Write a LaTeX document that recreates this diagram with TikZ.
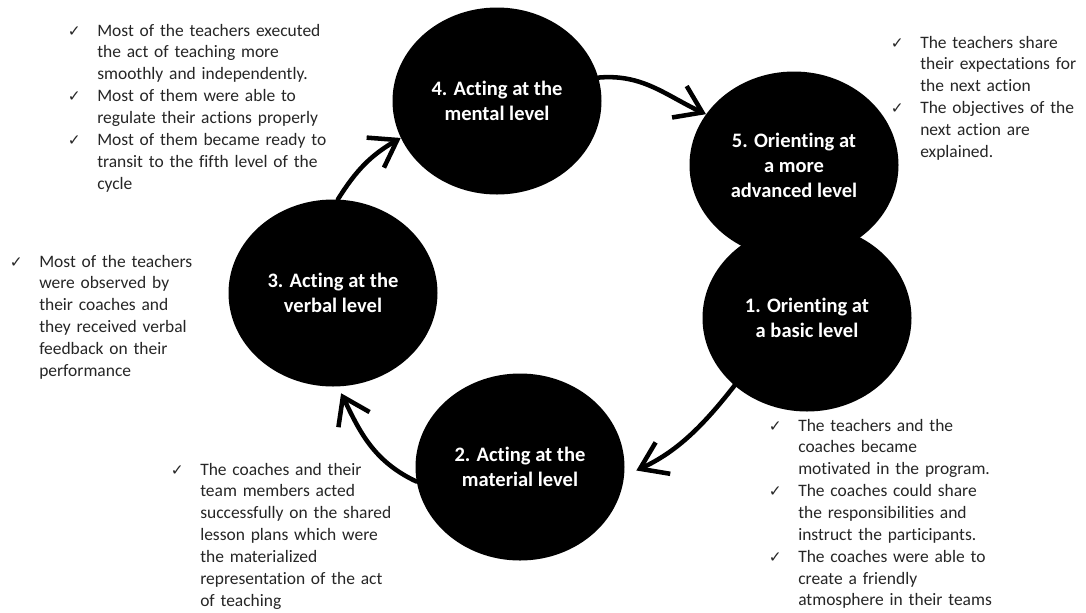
\documentclass[tikz,border=0pt]{standalone}
\usepackage{fontspec}
\setmainfont{Carlito}[Ligatures=NoCommon]
\newfontfamily\checkfont{DejaVu Sans}
\usetikzlibrary{arrows.meta,shapes.geometric}
\definecolor{bodytxt}{RGB}{38,38,38}
\newcommand{\ck}{\leavevmode\llap{{\checkfont\fontsize{11.5pt}{11.5pt}\selectfont ✓}\hspace{12.5pt}}}
\begin{document}
\begin{tikzpicture}[x=0.75pt,y=0.75pt,
  stage/.style={ellipse,fill=black,draw=none,minimum width=156.75pt,minimum height=140.25pt,inner sep=0pt,
    text=white,align=center,font=\bfseries\fontsize{15.4pt}{18.75pt}\selectfont},
  note/.style={anchor=base west,inner sep=0pt,text width=240pt,align=left,text=bodytxt,
    font=\fontsize{13.1pt}{16.4pt}\selectfont},
  flow/.style={line width=3.4pt,line cap=round,-{Straight Barb[length=19pt,width=26pt]}}]
\fill[white] (0,0) rectangle (1086,-612);
\useasboundingbox (0,0) rectangle (1086,-612);

\node[stage] (c4) at (497,-101) {4. Acting at the\\mental level};
\node[stage] (c5) at (794,-165) {5. Orienting at\\a more\\advanced level};
\node[stage] (c1) at (807,-318) {1. Orienting at\\a basic level};
\node[stage] (c2) at (520,-467) {2. Acting at the\\material level};
\node[stage] (c3) at (333,-293) {3. Acting at the\\verbal level};

\draw[flow] (c3.87) to[out=58,in=210] (c4.201);
\draw[flow] (c4.13) to[out=5,in=155] (c5.150);
\draw[flow,shorten >=10pt] (c1.223) to[out=232,in=25] (c2.355);
\draw[flow,shorten >=5.5pt] (c2.188) to[out=155,in=296] (c3.273);

\node[note] (nA) at (97,-36) {\ck Most of the teachers executed\\the act of teaching more\\smoothly and independently.\\%
\ck Most of them were able to\\regulate their actions properly\\%
\ck Most of them became ready to\\transit to the fifth level of the\\cycle};
\node[note] (nB) at (920,-48) {\ck The teachers share\\their expectations for\\the next action\\%
\ck The objectives of the\\next action are\\explained.};
\node[note] (nC) at (39,-267) {\ck Most of the teachers\\were observed by\\their coaches and\\they received verbal\\feedback on their\\performance};
\node[note] (nD) at (200,-475) {\ck The coaches and their\\team members acted\\successfully on the shared\\lesson plans which were\\the materialized\\representation of the act\\of teaching};
\node[note] (nE) at (798,-431) {\ck The teachers and the\\coaches became\\motivated in the program.\\%
\ck The coaches could share\\the responsibilities and\\instruct the participants.\\%
\ck The coaches were able to\\create a friendly\\atmosphere in their teams};
\end{tikzpicture}
\end{document}
